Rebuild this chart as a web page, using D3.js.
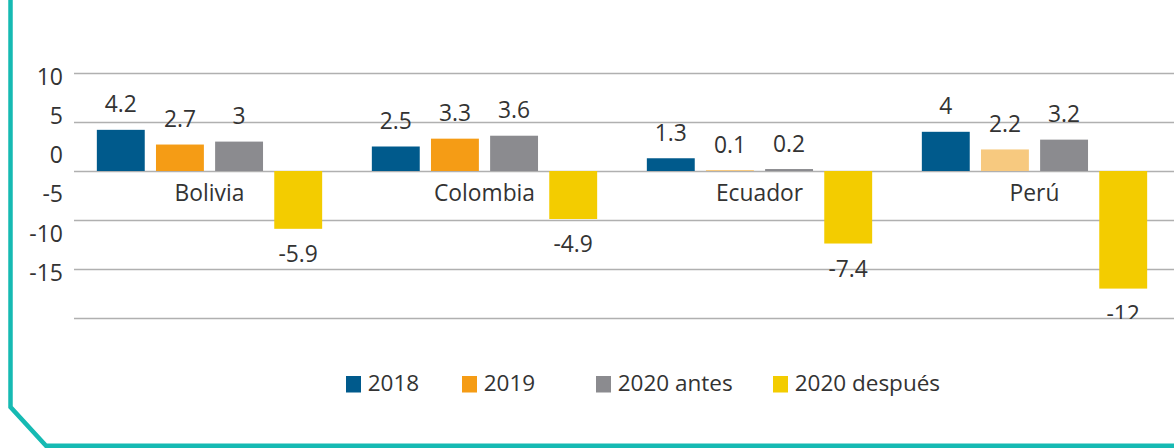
<!DOCTYPE html>
<html><head><meta charset="utf-8">
<script src="https://cdn.jsdelivr.net/npm/d3@7/dist/d3.min.js"></script>
<style>
html,body{margin:0;padding:0;background:#fff;}
svg{display:block;font-family:"Open Sans",sans-serif;}
</style></head><body>
<svg id="chart" width="1174" height="448"></svg>
<script>
// ---- data ----
const countries = ["Bolivia", "Colombia", "Ecuador", "Perú"];
const seriesNames = ["2018", "2019", "2020 antes", "2020 después"];
const v2018 = [4.2, 2.5, 1.3, 4];
const v2019 = [2.7, 3.3, 0.1, 2.2];
const v2020antes = [3, 3.6, 0.2, 3.2];
const v2020despues = [-5.9, -4.9, -7.4, -12];
const yTickValues = [10, 5, 0, -5, -10, -15];

// ---- styles / layout ----
const seriesColors = ["#005a8c", "#f59c15", "#8b8b8f", "#f3cc00"];
const lightOrange = "#f7c97f";
const lightOrangeCountries = ["Ecuador", "Perú"];
const legendX = [346, 462, 596, 773];
const textColor = "#333333";
const teal = "#16bab3";

const seriesValues = [v2018, v2019, v2020antes, v2020despues];

const svg = d3.select("#chart");
const W = 1174, H = 448;

// scales
const y = d3.scaleLinear().domain([-15, 10]).range([318, 73]);
const yLabel = d3.scaleLinear().domain([-15, 10]).range([273, 77]); // tick labels sit on their own spacing
const x0 = d3.scaleBand().domain(countries).range([72, 1172]).padding(0);
const x1 = d3.scaleBand().domain(seriesNames).range([0, x0.bandwidth()])
  .paddingInner(0.19).paddingOuter(0.42);

// clip for chart content (cut at bottom gridline)
svg.append("defs").append("clipPath").attr("id", "plotClip")
  .append("rect").attr("x", 0).attr("y", 0).attr("width", W).attr("height", y(-15) + 1);

// gridlines
const grid = svg.append("g").attr("transform", "translate(74,0)")
  .call(d3.axisLeft(y).tickValues(yTickValues).tickSize(-(W - 74)).tickFormat(""));
grid.select(".domain").remove();
grid.selectAll(".tick line").attr("stroke", "#b0b0b0").attr("stroke-width", 1.4);

// tick labels
const yAx = svg.append("g").attr("transform", "translate(63,0)")
  .call(d3.axisLeft(yLabel).tickValues(yTickValues).tickSize(0).tickPadding(0).tickFormat(d => String(d)));
yAx.select(".domain").remove();
yAx.selectAll("text").attr("fill", textColor).attr("font-size", 23)
  .attr("font-family", "'Open Sans', sans-serif");

// bars
const content = svg.append("g").attr("clip-path", "url(#plotClip)");
const rows = [];
countries.forEach((c, ci) => {
  seriesNames.forEach((s, si) => {
    rows.push({country: c, series: s, si: si, value: seriesValues[si][ci]});
  });
});
function barColor(d) {
  if (d.si === 1 && lightOrangeCountries.includes(d.country)) return lightOrange;
  return seriesColors[d.si];
}
content.selectAll("rect.bar").data(rows).join("rect")
  .attr("class", "bar")
  .attr("x", d => x0(d.country) + x1(d.series))
  .attr("width", x1.bandwidth())
  .attr("y", d => d.value >= 0 ? y(d.value) : y(0))
  .attr("height", d => Math.abs(y(d.value) - y(0)))
  .attr("fill", barColor);

// value labels
content.selectAll("text.val").data(rows).join("text")
  .attr("class", "val")
  .attr("x", d => x0(d.country) + x1(d.series) + x1.bandwidth() / 2)
  .attr("y", d => d.value >= 0 ? y(d.value) - 17.5 : y(d.value) + 33)
  .attr("text-anchor", "middle")
  .attr("font-size", 22.8)
  .attr("fill", textColor)
  .text(d => String(d.value));

// category labels
svg.selectAll("text.cat").data(countries).join("text")
  .attr("class", "cat")
  .attr("x", d => x0(d) + x0.bandwidth() / 2)
  .attr("y", y(0) + 30)
  .attr("text-anchor", "middle")
  .attr("font-size", 22.8)
  .attr("fill", textColor)
  .text(d => d);

// legend
const leg = svg.selectAll("g.leg").data(seriesNames).join("g")
  .attr("class", "leg")
  .attr("transform", (d, i) => `translate(${legendX[i]},376)`);
leg.append("rect").attr("width", 15).attr("height", 16.5).attr("fill", (d, i) => seriesColors[i]);
leg.append("text").attr("x", 21.7).attr("y", 15).attr("font-size", 22.5)
  .attr("fill", textColor).text(d => d);

// teal frame
svg.append("path")
  .attr("d", d3.line()([[10.5, -5], [10.5, 407], [46, 445.7], [W + 5, 445.7]]))
  .attr("fill", "none").attr("stroke", teal).attr("stroke-width", 4.5);
</script>
</body></html>
